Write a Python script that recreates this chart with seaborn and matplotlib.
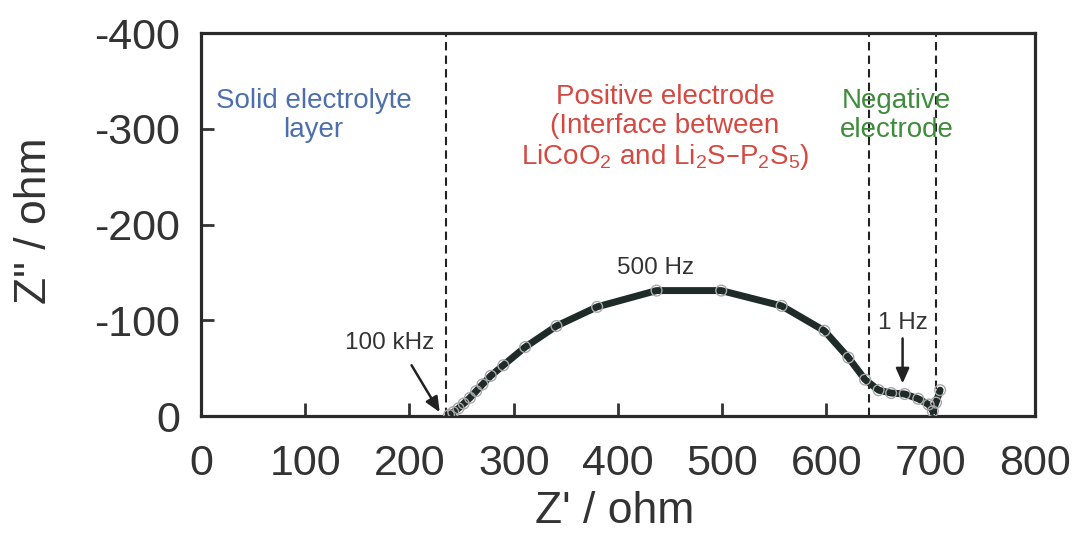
import matplotlib
matplotlib.use("Agg")
import matplotlib.pyplot as plt
import seaborn as sns
import pandas as pd

# Nyquist data (Z' real part, Z'' imaginary part), high -> low frequency
z_real = [238, 242, 247, 252, 258, 264, 270, 278, 290, 311, 341, 380,
          437, 499, 557, 598, 621, 637, 650, 662, 675, 688, 698, 702, 705, 709]
z_imag = [-1, -4, -8, -13, -19, -26, -33, -42, -53, -72, -94, -114,
          -131, -131, -115, -89, -61, -38, -27, -24, -23, -18, -12, -5, -14, -27]

# Region boundaries on the Z' axis
boundaries = [235, 641, 705]

x_ticks = [0, 100, 200, 300, 400, 500, 600, 700, 800]
y_ticks = [0, -100, -200, -300, -400]

sns.set_style("ticks")
plt.rcParams["font.family"] = ["Liberation Sans", "DejaVu Sans"]

df = pd.DataFrame({"zr": z_real, "zi": z_imag})

fig = plt.figure(figsize=(10.77, 5.35), dpi=100)
ax = fig.add_axes([0.1866, 0.2224, 0.7744, 0.7159])

ink = "#1f2b28"
sns.lineplot(data=df, x="zr", y="zi", sort=False, estimator=None, color=ink,
             lw=5.0, ax=ax, zorder=3)
sns.scatterplot(data=df, x="zr", y="zi", marker="o", s=60, facecolor="none",
                edgecolor="#a8a8a8", linewidth=1.0, ax=ax, zorder=4)

for b in boundaries:
    ax.axvline(b, color="#222222", ls=(0, (4, 2.5)), lw=1.5, zorder=2)

ax.set_xlim(0, 800)
ax.set_ylim(0, -400)
ax.set_xticks(x_ticks)
ax.set_yticks(y_ticks)
ax.set_xticklabels([str(t) for t in x_ticks])
ax.set_yticklabels([str(t) for t in y_ticks])
ax.tick_params(direction="in", length=9.5, width=2, labelsize=31,
               colors="#333333")
ax.tick_params(axis="x", pad=20)
ax.tick_params(axis="y", pad=15)
for s in ax.spines.values():
    s.set_linewidth(2.3)
    s.set_color("#2a2a2a")
    s.set_visible(True)

ax.set_xlabel("Z' / ohm", fontsize=32, color="#333333", va="center")
ax.xaxis.set_label_coords(0.496, -0.25)
ax.set_ylabel('Z" / ohm', fontsize=32, color="#333333", va="center")
ax.yaxis.set_label_coords(-0.20, 0.51)

# Region labels
ax.text(108, -314, "Solid electrolyte\nlayer", ha="center", va="center",
        fontsize=20, color="#4d6fae", linespacing=1.15)
ax.text(445, -301, "Positive electrode\n(Interface between\n"
        r"LiCoO$_\mathregular{2}$ and Li$_\mathregular{2}$S–P$_\mathregular{2}$S$_\mathregular{5}$)",
        ha="center", va="center", fontsize=20, color="#d44a42",
        linespacing=1.15)
ax.text(667, -314, "Negative\nelectrode", ha="center", va="center",
        fontsize=20, color="#3f8c3c", linespacing=1.15)

# Frequency annotations
txt = "#333333"
arrow = dict(arrowstyle="-|>,head_length=0.9,head_width=0.4",
             color="#222222", lw=1.8, shrinkA=0, shrinkB=0)
ax.text(436, -155, "500 Hz", ha="center", va="center", fontsize=17.5, color=txt)
ax.text(181, -76, "100 kHz", ha="center", va="center", fontsize=17.5, color=txt)
ax.annotate("", xy=(229, -4), xytext=(202, -53), arrowprops=arrow)
ax.text(673, -97, "1 Hz", ha="center", va="center", fontsize=17.5, color=txt)
ax.annotate("", xy=(673, -34), xytext=(673, -81), arrowprops=arrow)

fig.savefig("out.png", dpi=100)
